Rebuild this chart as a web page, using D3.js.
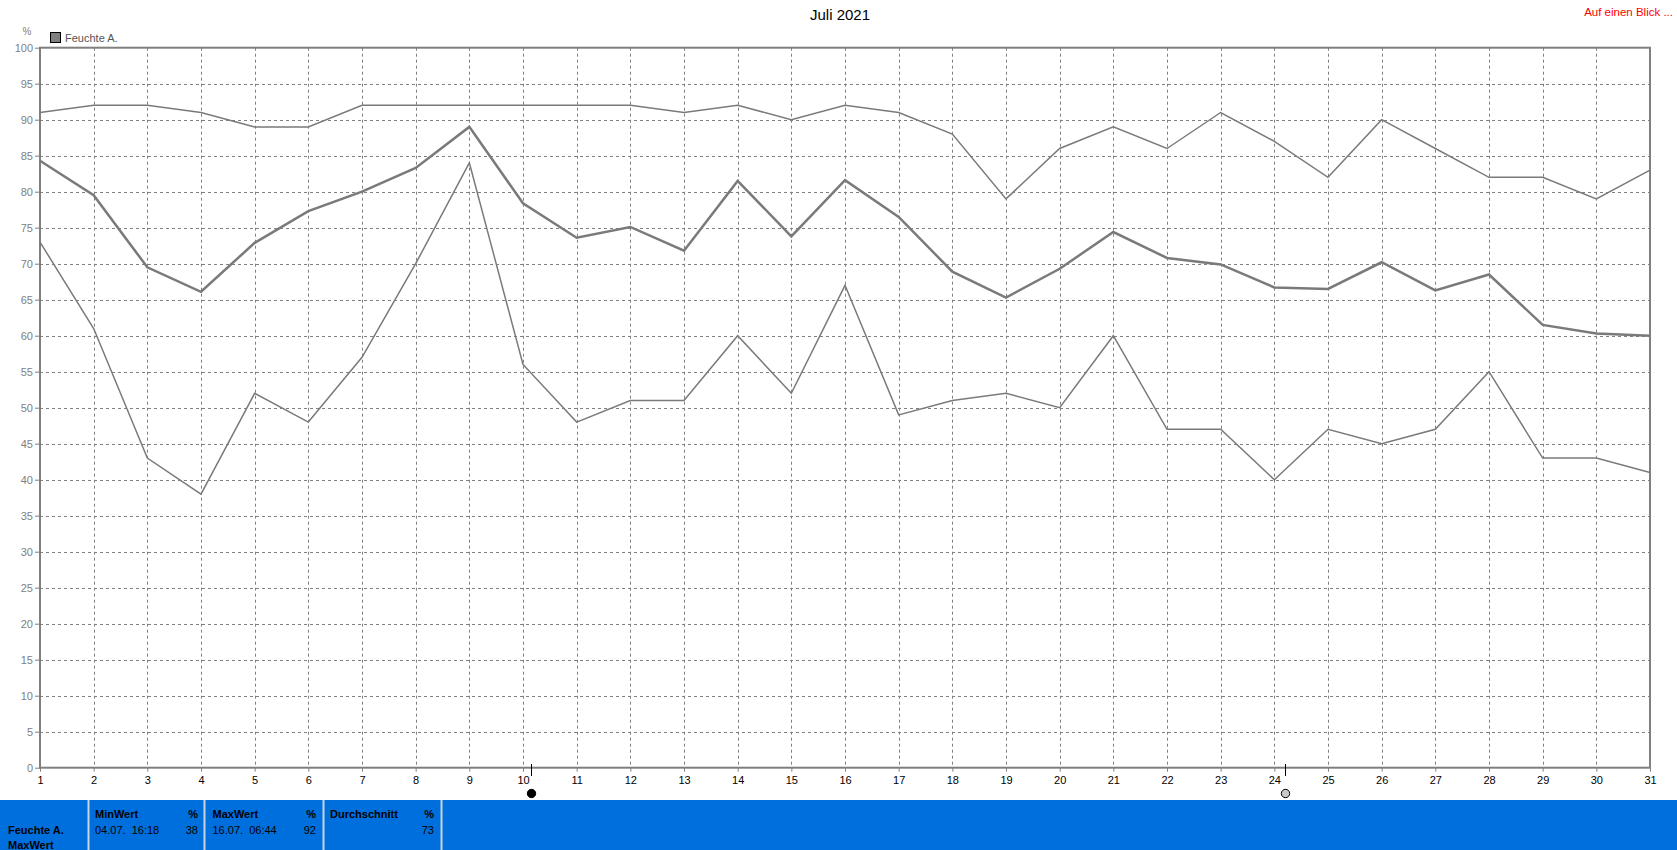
<!DOCTYPE html>
<html>
<head>
<meta charset="utf-8">
<script src="https://cdn.jsdelivr.net/npm/d3@7"></script>
<style>
  html, body { margin: 0; padding: 0; background: #fff; }
  svg { display: block; }
  text { font-family: "Liberation Sans", "DejaVu Sans", Arial, sans-serif; }
</style>
</head>
<body>
<svg id="chart" width="1677" height="850"></svg>
<script>
// ---- data ----
const days = d3.range(1, 32);
const maxValues = [91,92,92,91,89,89,92,92,92,92,92,92,91,92,90,92,91,88,79,86,89,86,91,87,82,90,86,82,82,79,83];
const avgValues = [84.3,79.5,69.5,66.1,72.9,77.3,80.0,83.3,89.0,78.4,73.6,75.1,71.8,81.5,73.8,81.6,76.5,68.9,65.3,69.3,74.4,70.8,69.9,66.7,66.5,70.2,66.3,68.5,61.5,60.3,60.0];
const minValues = [73,61,43,38,52,48,57,70,84,56,48,51,51,60,52,67,49,51,52,50,60,47,47,40,47,45,47,55,43,43,41];
const yTicks = d3.range(0, 101, 5);
const moonEvents = [{day: 10.14, type: "new"}, {day: 24.19, type: "full"}];
const title = "Juli 2021";
const legendLabel = "Feuchte A.";
const unitLabel = "%";
const linkLabel = "Auf einen Blick ...";
const statRowLabels = ["Feuchte A.", "MaxWert"];
const statPanels = [
  {head: "MinWert", unit: "%", when: "04.07.  16:18", value: "38"},
  {head: "MaxWert", unit: "%", when: "16.07.  06:44", value: "92"},
  {head: "Durchschnitt", unit: "%", when: "", value: "73"}
];

// ---- layout ----
const svg = d3.select("#chart");
const L = 40, R = 1650, T = 47.7, B = 767.7;
const x = d3.scaleLinear().domain([1, 31]).range([L, R]);
const y = d3.scaleLinear().domain([0, 100]).range([B, T]);
const gridColor = "#808080";

// grid
const grid = svg.append("g");
grid.selectAll("line.h").data(yTicks.filter(v => v > 0 && v < 100)).enter().append("line")
  .attr("x1", L).attr("x2", R).attr("y1", d => Math.round(y(d)) + 0.5).attr("y2", d => Math.round(y(d)) + 0.5)
  .attr("stroke", gridColor).attr("stroke-width", 1).attr("stroke-dasharray", "3,3");
grid.selectAll("line.v").data(days.filter(d => d > 1 && d < 31)).enter().append("line")
  .attr("y1", T).attr("y2", B).attr("x1", d => Math.round(x(d)) + 0.5).attr("x2", d => Math.round(x(d)) + 0.5)
  .attr("stroke", gridColor).attr("stroke-width", 1).attr("stroke-dasharray", "3,3");

// frame
svg.append("rect").attr("x", L).attr("y", T).attr("width", R - L).attr("height", B - T)
  .attr("fill", "none").attr("stroke", gridColor).attr("stroke-width", 2);

// axes
const yAxis = d3.axisLeft(y).tickValues(yTicks).tickSize(5).tickPadding(2);
const gy = svg.append("g").attr("transform", `translate(${L},0)`).call(yAxis);
gy.select(".domain").remove();
gy.selectAll(".tick line").attr("stroke", gridColor);
gy.selectAll(".tick text").attr("fill", "#808080").style("font-size", "11px")
  .style("font-family", "'Liberation Sans', Arial, sans-serif");

const xAxis = d3.axisBottom(x).tickValues(days).tickFormat(d3.format("d")).tickSize(4).tickPadding(5);
const gx = svg.append("g").attr("transform", `translate(0,${B})`).call(xAxis);
gx.select(".domain").remove();
gx.selectAll(".tick line").attr("stroke", gridColor);
gx.selectAll(".tick text").attr("fill", "#000").style("font-size", "11px")
  .style("font-family", "'Liberation Sans', Arial, sans-serif");

// lines
const line = d3.line().x((d, i) => x(days[i])).y(d => y(d));
svg.append("path").datum(maxValues).attr("d", line).attr("fill", "none").attr("stroke", "#7a7a7a").attr("stroke-width", 1.5);
svg.append("path").datum(minValues).attr("d", line).attr("fill", "none").attr("stroke", "#7a7a7a").attr("stroke-width", 1.5);
svg.append("path").datum(avgValues).attr("d", line).attr("fill", "none").attr("stroke", "#7a7a7a").attr("stroke-width", 2.5);

// title + labels
svg.append("text").attr("x", 840).attr("y", 20).attr("text-anchor", "middle")
  .style("font-size", "15px").attr("fill", "#000").text(title);
svg.append("text").attr("x", 1673).attr("y", 16).attr("text-anchor", "end")
  .style("font-size", "11.5px").attr("fill", "#ff0000").text(linkLabel);
svg.append("text").attr("x", 27).attr("y", 35).attr("text-anchor", "middle")
  .style("font-size", "10px").attr("fill", "#808080").text(unitLabel);
svg.append("rect").attr("x", 50.5).attr("y", 32.5).attr("width", 10).attr("height", 10)
  .attr("fill", "#808080").attr("stroke", "#000").attr("stroke-width", 1);
svg.append("text").attr("x", 65).attr("y", 42).style("font-size", "11px").attr("fill", "#555").text(legendLabel);

// moon markers
const moons = svg.append("g");
moonEvents.forEach(m => {
  const mx = Math.round(x(m.day)) + 0.5;
  moons.append("line").attr("x1", mx).attr("x2", mx).attr("y1", 764).attr("y2", 776)
    .attr("stroke", "#000").attr("stroke-width", 1);
  moons.append("circle").attr("cx", mx).attr("cy", 793.5).attr("r", 4.2)
    .attr("fill", m.type === "new" ? "#000" : "#c8c8c8").attr("stroke", "#000").attr("stroke-width", 1);
});

// stats bar
const bar = svg.append("g");
bar.append("rect").attr("x", 0).attr("y", 800).attr("width", 1677).attr("height", 50).attr("fill", "#006fde");
const seps = [88, 204, 323, 441];
seps.forEach(sx => bar.append("rect").attr("x", sx - 0.5).attr("y", 800).attr("width", 2).attr("height", 50).attr("fill", "#c8d4e0"));
bar.append("text").attr("x", 8).attr("y", 834).style("font-size", "11px").style("font-weight", "bold").attr("fill", "#000").text(statRowLabels[0]);
bar.append("text").attr("x", 8).attr("y", 849).style("font-size", "11px").style("font-weight", "bold").attr("fill", "#000").text(statRowLabels[1]);
const panelX = [95, 212.5, 330];
const panelR = [198, 316, 434];
statPanels.forEach((p, i) => {
  bar.append("text").attr("x", panelX[i]).attr("y", 817.5).style("font-size", "11px").style("font-weight", "bold").attr("fill", "#000").text(p.head);
  bar.append("text").attr("x", panelR[i]).attr("y", 817.5).attr("text-anchor", "end").style("font-size", "11px").style("font-weight", "bold").attr("fill", "#000").text(p.unit);
  bar.append("text").attr("x", panelX[i]).attr("y", 833.5).style("font-size", "11px").attr("fill", "#000").attr("xml:space", "preserve").style("white-space", "pre").text(p.when);
  bar.append("text").attr("x", panelR[i]).attr("y", 833.5).attr("text-anchor", "end").style("font-size", "11px").attr("fill", "#000").text(p.value);
});
</script>
</body>
</html>
